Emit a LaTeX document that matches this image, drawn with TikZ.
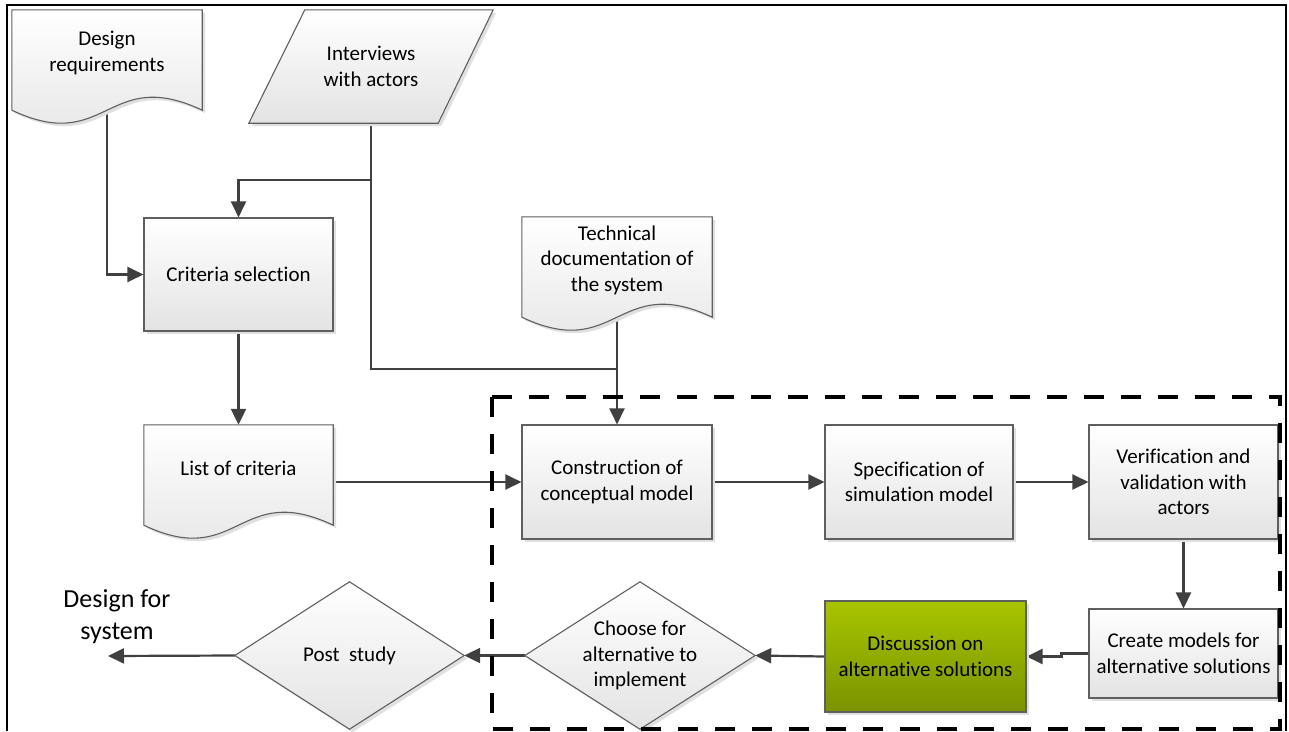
\documentclass[tikz,border=0pt]{standalone}
\usepackage{fontspec}
\setmainfont[Ligatures=NoCommon,RawFeature={-liga,-clig,-calt,-dlig}]{Carlito}
\usetikzlibrary{arrows.meta,shadows,calc}
\definecolor{edge}{HTML}{5F5F5F}
\definecolor{wire}{HTML}{404040}
\definecolor{greentop}{HTML}{A8C400}
\definecolor{greenbot}{HTML}{7A9300}
\pgfdeclarelayer{wires}
\pgfdeclarelayer{outlines}
\pgfsetlayers{wires,outlines,main}

% wavy-bottomed document outline around a holder node
\newcommand\docoutline[1]{%
  \path[outline] let \p1=(#1.south west), \p2=(#1.north east) in
    (\x1,\y2) -- (\x2,\y2) -- (\x2,\y1-14pt)
    .. controls ({(\x1+\x2)/2},\y1-14pt+45pt) and ({(\x1+\x2)/2},\y1-14pt-45pt) .. (\x1,\y1-14pt)
    -- cycle;}
% diamond outline through the four sides of a holder node
\newcommand\diaoutline[1]{%
  \path[outline] (#1.north) -- (#1.east) -- (#1.south) -- (#1.west) -- cycle;}

\begin{document}
\begin{tikzpicture}[x=1pt,y=-1pt,
  every node/.style={font=\fontsize{21}{25.5}\selectfont, align=center, text=black},
  shadowed/.style={drop shadow={shadow xshift=3pt,shadow yshift=-3pt,fill=black!12,opacity=1}},
  fillshade/.style={top color=white,bottom color=black!11},
  procbox/.style={rectangle,draw=edge,line width=1.1pt,fillshade,shadowed,inner sep=2pt},
  holder/.style={rectangle,draw=none,inner sep=0pt},
  outline/.style={draw=edge,line width=1.1pt,fillshade,shadowed},
  wireline/.style={draw=wire,line width=2.2pt},
  flow/.style={wireline,-{Triangle[length=16pt,width=15pt]}},
]
\useasboundingbox (0,0) rectangle (1289,731);

% outer frame, open at the bottom
\draw[black,line width=2pt] (7,731) -- (7,5) -- (1286,5) -- (1286,731);

% inputs
\node[holder,minimum width=190pt,minimum height=86pt] (dreq) at (107,53) {Design\\requirements};
\node[holder,minimum width=244pt,minimum height=113pt] (intv) at (371,66.5) {Interviews\\with actors};
\node[holder,minimum width=190pt,minimum height=86pt] (tech) at (617,260) {Technical\\documentation of\\the system};
\begin{pgfonlayer}{outlines}
  \docoutline{dreq}
  \docoutline{tech}
  \path[outline] ($(intv.north west)+(56,0)$) -- (intv.north east)
    -- ($(intv.south east)+(-55,0)$) -- (intv.south west) -- cycle;
\end{pgfonlayer}

% criteria
\node[procbox,minimum width=189pt,minimum height=113pt] (crit) at (238.5,274.5) {Criteria selection};
\node[holder,minimum width=189pt,minimum height=86pt] (list) at (238.5,468) {List of criteria};
\begin{pgfonlayer}{outlines}
  \docoutline{list}
\end{pgfonlayer}

% modelling loop
\node[procbox,minimum width=190pt,minimum height=114pt] (cons) at (617,482) {Construction of\\conceptual model};
\node[procbox,minimum width=188pt,minimum height=114pt] (spec) at (919,482) {Specification of\\simulation model};
\node[procbox,minimum width=189pt,minimum height=114pt] (ver) at (1183.5,482) {Verification and\\validation with\\actors};
\node[procbox,minimum width=189pt,minimum height=89pt] (cmod) at (1183.5,653.5) {Create models for\\alternative solutions};
\node[procbox,minimum width=201pt,minimum height=111pt,top color=greentop,bottom color=greenbot] (disc) at (925.5,656.5) {Discussion on\\alternative solutions};

% decisions
\node[holder,minimum width=230pt,minimum height=147pt] (choose) at (640,655.5) {Choose for\\alternative to\\implement};
\node[holder,minimum width=229pt,minimum height=147pt] (post) at (349.5,655.5) {Post\ \ study};
\begin{pgfonlayer}{outlines}
  \diaoutline{choose}
  \diaoutline{post}
\end{pgfonlayer}

% result
\node[font=\fontsize{26}{32}\selectfont] (dsys) at (117,617) {Design for\\system};
\coordinate (outp) at (108,656);

% connectors
\coordinate (split) at (371,180);
\coordinate (merge) at (617,369);
\begin{pgfonlayer}{wires}
  \draw[flow] (dreq.south) |- (crit.west);
  \draw[flow] (intv.south) -- (split) -| (crit.north);
  \draw[wireline] (split) |- (merge);
  \draw[flow] (tech.south) -- (cons.north);
  \draw[flow] (crit.south) -- (list.north);
  \draw[flow] (list.east |- cons.west) -- (cons.west);
  \draw[flow] (cons.east) -- (spec.west);
  \draw[flow] (spec.east) -- (ver.west);
  \draw[flow] (ver.south) -- (cmod.north);
  \draw[flow] (cmod.west) -- ++(-27,0) |- (disc.east);
  \draw[flow] (disc.west) -- (choose.east);
  \draw[flow] (choose.west) -- (post.east);
  \draw[flow] (post.west) -- (outp);
\end{pgfonlayer}

% simulation study boundary
\draw[black,line width=4pt,dash pattern=on 20pt off 17pt] (492,397) rectangle (1280,729);
\end{tikzpicture}
\end{document}
